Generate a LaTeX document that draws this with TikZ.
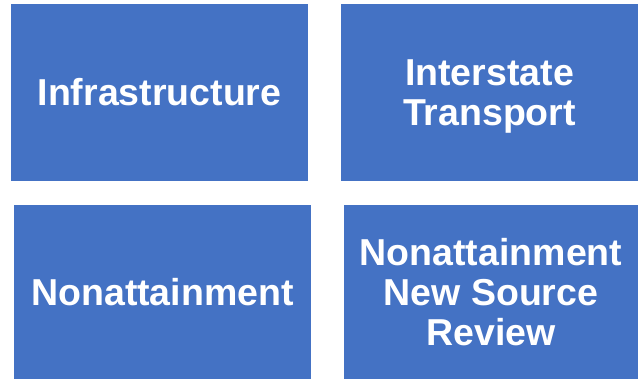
\documentclass[tikz,border=0pt]{standalone}
\usepackage{fontspec}
\setmainfont{Liberation Sans}
\definecolor{boxblue}{HTML}{4472C4}
\begin{document}
\begin{tikzpicture}[x=1pt,y=-1pt,
  block/.style={fill=boxblue,draw=none,inner sep=0pt,align=center,text=white,
    font=\fontsize{37.5}{40}\selectfont\bfseries}]
\useasboundingbox (0,0) rectangle (638,379);
\node (infra) [block,minimum width=297pt,minimum height=177pt] at (159.5,92.5) {Infrastructure};
\node (transport) [block,minimum width=297pt,minimum height=177pt] at (489.5,92.5) {\\[-6pt]Interstate\\Transport};
\node (nonattain) [block,minimum width=297pt,minimum height=174pt] at (162.5,292) {Nonattainment};
\node (nsr) [block,minimum width=294pt,minimum height=174pt] at (491,292) {Nonattainment\\New Source\\Review};
\end{tikzpicture}
\end{document}
